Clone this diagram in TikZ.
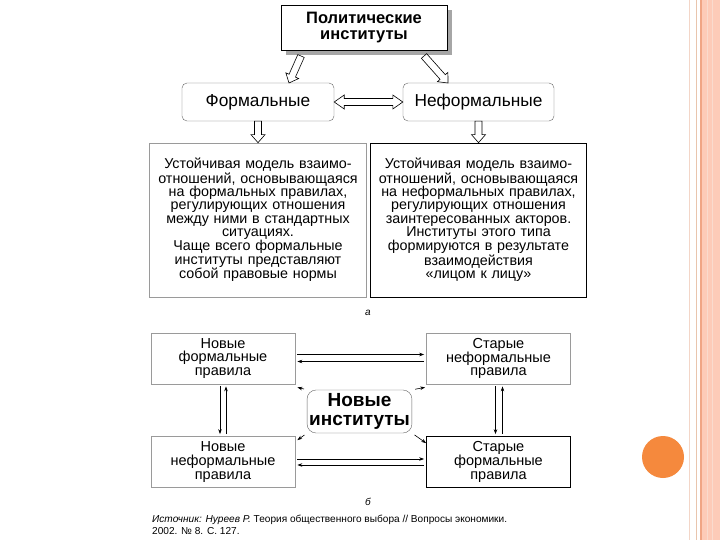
\documentclass[tikz,border=0pt]{standalone}
\usepackage{fontspec}
\setmainfont{Liberation Sans}
\usepackage{tikz}
\usetikzlibrary{positioning,calc,shadows,arrows.meta}

\definecolor{bandpeach}{HTML}{FDCBB8}
\definecolor{bandline}{HTML}{F0A585}
\definecolor{palepeach}{HTML}{F3D6C8}
\definecolor{dotorange}{HTML}{F5893D}
\definecolor{lightframe}{HTML}{9A9A9A}

% hollow block arrow from #1 to #2
\newcommand{\harrow}[2]{%
  \draw[fill=white,line width=0.6pt,line join=miter]
    ($(#2)!8pt!(#1)$) coordinate (hc)
    ($(#1)!3.5pt!90:(#2)$) -- ($(hc)!3.5pt!90:(#2)$) -- ($(hc)!7pt!90:(#2)$)
    -- (#2) -- ($(hc)!7pt!-90:(#2)$) -- ($(hc)!3.5pt!-90:(#2)$)
    -- ($(#1)!3.5pt!-90:(#2)$) -- cycle;}
% hollow double arrow between #1 and #2
\newcommand{\hdarrow}[2]{%
  \draw[fill=white,line width=0.6pt,line join=miter]
    ($(#2)!10pt!(#1)$) coordinate (hc) ($(#1)!10pt!(#2)$) coordinate (hd)
    (#1) -- ($(hd)!7pt!90:(#2)$) -- ($(hd)!3.5pt!90:(#2)$) -- ($(hc)!3.5pt!90:(#2)$)
    -- ($(hc)!7pt!90:(#2)$) -- (#2) -- ($(hc)!7pt!-90:(#2)$) -- ($(hc)!3.5pt!-90:(#2)$)
    -- ($(hd)!3.5pt!-90:(#2)$) -- ($(hd)!7pt!-90:(#2)$) -- cycle;}

\begin{document}
\begin{tikzpicture}[x=1pt,y=-1pt,on grid,
  topbox/.style={draw,line width=0.8pt,fill=white,minimum width=166pt,minimum height=45pt,
    align=center,font=\fontsize{16.5}{16.5}\selectfont\bfseries,
    drop shadow={shadow xshift=5pt,shadow yshift=-5pt,fill=black!35,opacity=1}},
  kindbox/.style={draw=black!60,rounded corners=5pt,minimum width=152pt,minimum height=38pt,
    font=\fontsize{17.3}{19}\selectfont},
  descbox/.style={draw=#1,line width=0.7pt,minimum width=214pt,minimum height=154pt,
    text width=210pt,align=center,font=\fontsize{14.3}{13.3}\selectfont},
  rulebox/.style={draw=#1,line width=0.7pt,minimum width=144pt,minimum height=51pt,
    align=center,font=\fontsize{14.5}{13.6}\selectfont},
  newbox/.style={draw=black!60,rounded corners=9pt,minimum width=101pt,minimum height=43pt,
    inner xsep=2pt,align=center,font=\fontsize{19}{19}\selectfont\bfseries},
  partlbl/.style={font=\fontsize{10}{12}\selectfont\itshape},
  thin/.style={line width=0.6pt,-{Stealth[length=5pt,width=3.5pt]}}]

  % slide frame
  \useasboundingbox (0,0) rectangle (720,540);
  \fill[white] (0,0) rectangle (720,540);
  \fill[bandpeach] (700,0) rectangle (720,540);
  \draw[palepeach,line width=1.5pt] (689.5,0) -- (689.5,540);
  \draw[palepeach!80!brown,line width=0.8pt] (696,0) -- (696,540);
  \draw[bandline,line width=1.5pt] (701,0) -- (701,540);
  \draw[bandline!40,line width=0.6pt] (707,0) -- (707,540);
  \draw[bandline!40,line width=0.6pt] (712,0) -- (712,540);
  \fill[dotorange] (663,457) circle (21);

  % part a
  \node[topbox] (pol) at (364,27.5) {Политические\\институты};
  \node[kindbox] (form) [below left=74.5pt and 106pt of pol] {Формальные};
  \node[kindbox,minimum width=151pt] (inform) [right=220.5pt of form] {Неформальные};
  \node[descbox=lightframe] (fdesc) [below=118pt of form] {Устойчивая модель взаимо-\\отношений, основывающаяся\\на формальных правилах,\\регулирующих отношения\\между ними в стандартных\\ситуациях.\\Чаще всего формальные\\институты представляют\\собой правовые нормы};
  \node[descbox=black] (idesc) [below=118pt of inform] {Устойчивая модель взаимо-\\отношений, основывающаяся\\на неформальных правилах,\\регулирующих отношения\\заинтересованных акторов.\\Институты этого типа\\формируются в результате\\взаимодействия\\«лицом к лицу»};
  \node[partlbl] (la) at (368,313) {а};

  \coordinate (p1) at (301,56);
  \coordinate (f1) at (289,83);
  \coordinate (p2) at (424,56);
  \coordinate (f2) at (448,83);
  \harrow{p1}{f1}
  \harrow{p2}{f2}
  \hdarrow{form.east}{inform.west}
  \harrow{form.south}{fdesc.north}
  \harrow{inform.south}{idesc.north}

  % part b
  \node[rulebox=lightframe] (nfr) at (223,358.5) {Новые\\формальные\\правила};
  \node[rulebox=lightframe] (oinr) [right=275.5pt of nfr] {Старые\\неформальные\\правила};
  \node[rulebox=lightframe] (ninr) [below=103.5pt of nfr] {Новые\\неформальные\\правила};
  \node[rulebox=black] (ofr) [below=103.5pt of oinr] {Старые\\формальные\\правила};
  \node[newbox] (ni) at (359.5,411.5) {Новые\\институты};
  \node[partlbl] (lb) at (368,502) {б};

  \draw[thin] ([yshift=4pt,xshift=2pt]nfr.east) -- ([yshift=4pt,xshift=-2pt]oinr.west);
  \draw[thin] ([yshift=-3pt,xshift=-2pt]oinr.west) -- ([yshift=-3pt,xshift=2pt]nfr.east);
  \draw[thin] ([yshift=3pt,xshift=2pt]ninr.east) -- ([yshift=3pt,xshift=-2pt]ofr.west);
  \draw[thin] ([yshift=-3pt,xshift=-2pt]ofr.west) -- ([yshift=-3pt,xshift=2pt]ninr.east);
  \draw[thin] ([xshift=-3pt,yshift=-2pt]nfr.south) -- ([xshift=-3pt,yshift=2pt]ninr.north);
  \draw[thin] ([xshift=3pt,yshift=2pt]ninr.north) -- ([xshift=3pt,yshift=-2pt]nfr.south);
  \draw[thin] ([xshift=-3pt,yshift=-2pt]oinr.south) -- ([xshift=-3pt,yshift=2pt]ofr.north);
  \draw[thin] ([xshift=4pt,yshift=2pt]ofr.north) -- ([xshift=4pt,yshift=-2pt]oinr.south);
  \draw[thin,shorten <=3pt] (ni.north west) -- ([shift={(2,3)}]nfr.south east);
  \draw[thin,shorten <=3pt] (ni.north east) -- ([shift={(-1,3)}]oinr.south west);
  \draw[thin,shorten <=3pt] (ni.south west) -- ([shift={(2,4)}]ninr.north east);
  \draw[thin,shorten <=3pt] (ni.south east) -- ([shift={(0,7)}]ofr.north west);

  % source
  \node[anchor=north west,align=left,inner sep=0pt,font=\fontsize{10.1}{12}\selectfont] (src) at (152,515)
    {\textit{Источник: Нуреев Р.} Теория общественного выбора // Вопросы экономики.\\2002. № 8. С. 127.};
\end{tikzpicture}
\end{document}
